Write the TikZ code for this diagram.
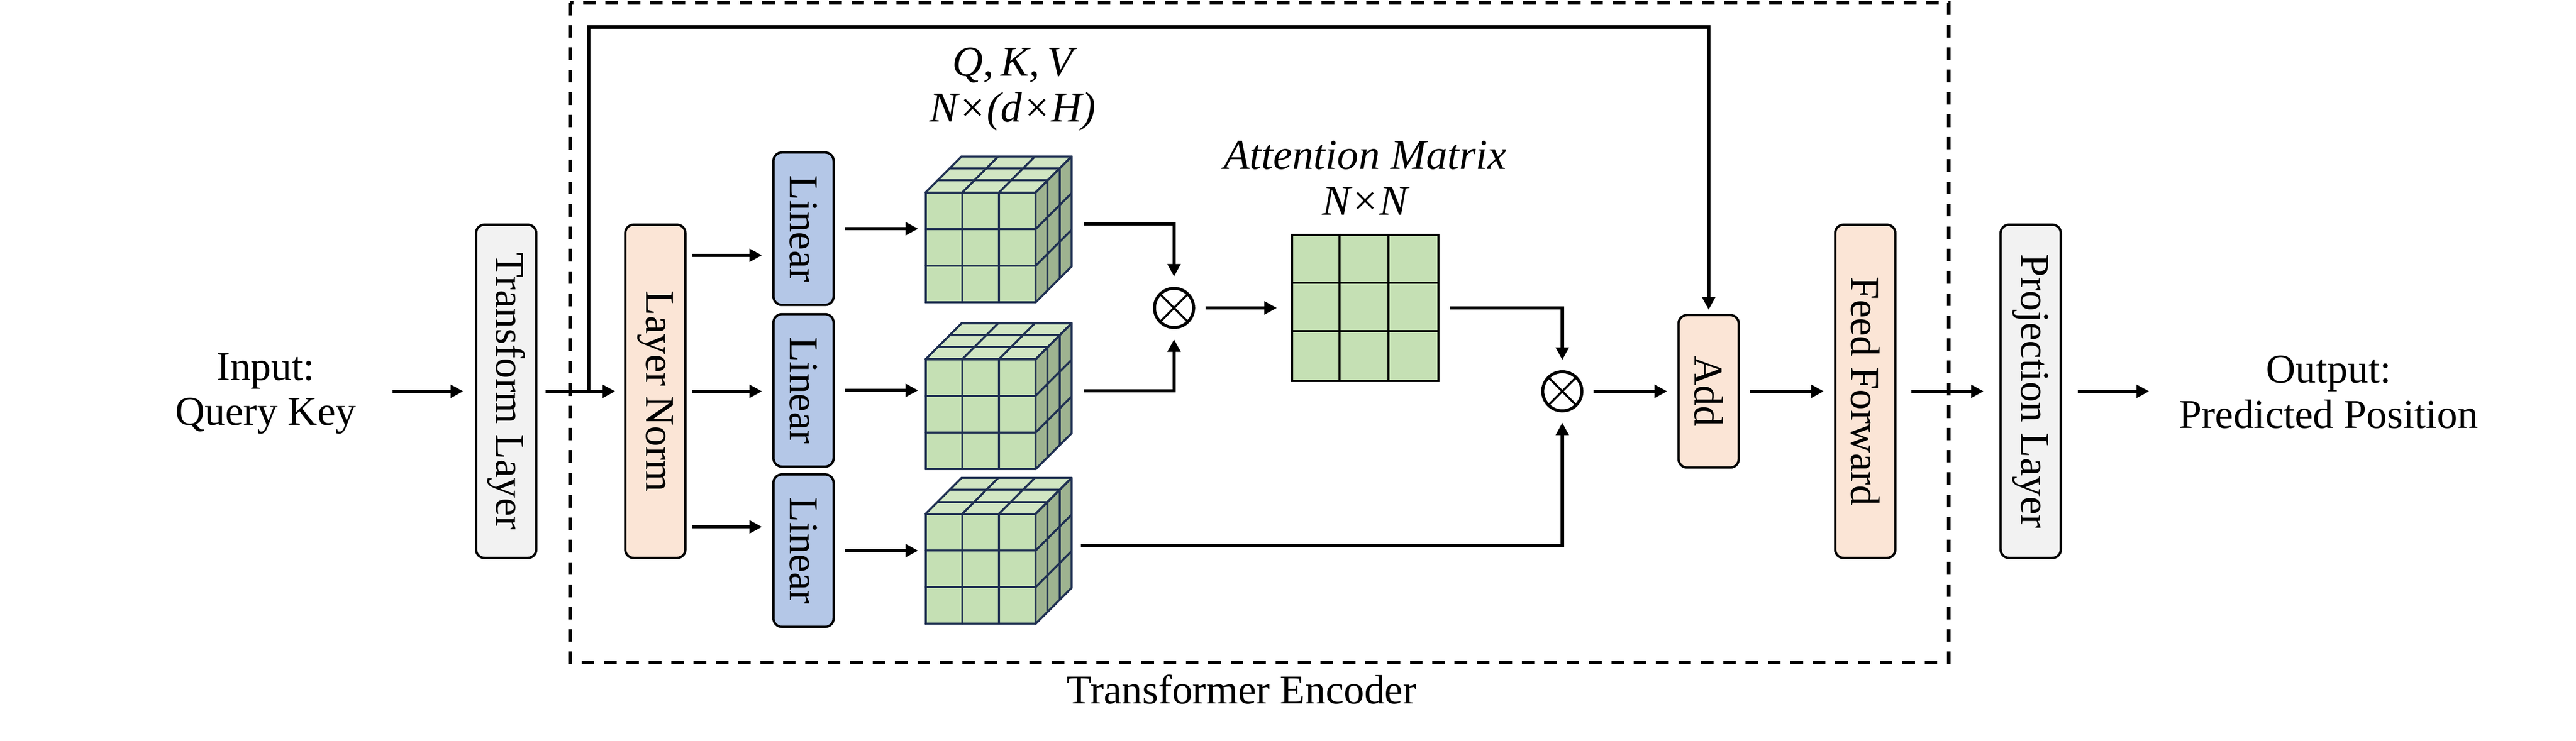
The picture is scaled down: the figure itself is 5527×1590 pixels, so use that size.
\documentclass[tikz,border=0pt]{standalone}
\usepackage{fontspec}
\setmainfont{Liberation Serif}
\usepackage{graphicx}
\usetikzlibrary{arrows.meta}

\definecolor{boxgray}{RGB}{242,242,242}
\definecolor{boxpeach}{RGB}{251,229,214}
\definecolor{boxblue}{RGB}{180,199,231}
\definecolor{cellgreen}{RGB}{197,224,180}
\definecolor{cubeedge}{RGB}{31,48,82}

\begin{document}
\begin{tikzpicture}%
        [x={(0.01cm, 0cm)},
        y={(0cm, -0.01cm)},
        font=\fontsize{25}{27.5}\selectfont,
        bigbox/.style={draw=black, line width=0.05cm, rounded corners=0.18cm, inner sep=0pt, minimum width=1.29cm, minimum height=7.15cm},
        smallbox/.style={bigbox, minimum height=3.27cm},
        arr/.style={line width=0.07cm, -{Triangle[length=0.27cm,width=0.27cm]}, shorten <=0.22cm, shorten >=0.22cm},
        cubeline/.style={draw=cubeedge, line width=0.045cm, line cap=round},
        cell/.style={draw=black, line width=0.045cm},
        otimes/.style={circle, draw=black, line width=0.065cm, minimum size=0.84cm, inner sep=0pt,
            path picture={\draw[line width=0.045cm] (path picture bounding box.north west) -- (path picture bounding box.south east)
                (path picture bounding box.north east) -- (path picture bounding box.south west);}},
        encoder/.style={dash pattern=on 0.27cm off 0.21cm, line width=0.07cm},
        dimtext/.style={align=center, font=\fontsize{26}{28}\selectfont\itshape}]

    \useasboundingbox (0,0) rectangle (5527,1590);

    %% Encoder frame
    \draw[encoder] (1223,6) rectangle (4181,1422);
    \node[anchor=base] (enclbl) at (2664,1511) {Transformer Encoder};

    %% Input / output
    \node[align=center, inner sep=0pt] (in) at (570,845) {Input:\\Query Key};
    \node[align=center, inner sep=0pt] (out) at (4996,842) {Output:\\Predicted Position};

    %% Layers
    \node[bigbox, fill=boxgray] (tl) at (1086,840) {\rotatebox{-90}{Transform Layer}};
    \node[bigbox, fill=boxpeach] (ln) at (1406,840) {\rotatebox{-90}{Layer Norm}};
    \node[smallbox, fill=boxblue] (lin1) at (1724,491) {\rotatebox{-90}{Linear}};
    \node[smallbox, fill=boxblue] (lin2) at (1724,838) {\rotatebox{-90}{Linear}};
    \node[smallbox, fill=boxblue] (lin3) at (1724,1182) {\rotatebox{-90}{Linear}};
    \node[smallbox, fill=boxpeach] (add) at (3666,840) {\rotatebox{-90}{Add}};
    \node[bigbox, fill=boxpeach] (ff) at (4002,840) {\rotatebox{-90}{Feed Forward}};
    \node[bigbox, fill=boxgray] (pr) at (4357,840) {\rotatebox{-90}{Projection Layer}};

    %% Q, K, V tensors
    \foreach \nm/\cy in {q/413, k/771, v/1103}{
        \fill[cellgreen] (1986,\cy) rectangle ++(236,236);
        \fill[cellgreen!80!white] (1986,\cy) -- ++(77,-77) -- ++(236,0) -- ++(-77,77) -- cycle;
        \fill[cellgreen!80!black] (2222,\cy) -- ++(77,-77) -- ++(0,236) -- ++(-77,77) -- cycle;
        \foreach \i in {0,...,3}{
            \draw[cubeline] (1986+\i*78.67,\cy) -- ++(0,236);
            \draw[cubeline] (1986,\cy+\i*78.67) -- ++(236,0);
            \draw[cubeline] (1986+\i*78.67,\cy) -- ++(77,-77);
            \draw[cubeline] (1986+\i*25.67,\cy-\i*25.67) -- ++(236,0);
            \draw[cubeline] (2222+\i*25.67,\cy-\i*25.67) -- ++(0,236);
            \draw[cubeline] (2222,\cy+\i*78.67) -- ++(77,-77);
        }
        \coordinate (\nm) at (1986,\cy+117);
        \coordinate (\nm o) at (2299,\cy+68);
    }
    \node[dimtext] (qkvlbl) at (2173,192) {Q,\,K,\,V\\N×(d×H)};

    %% Attention matrix
    \node[cell, fill=cellgreen, minimum size=3.14cm, inner sep=0pt] (att) at (2929,661) {};
    \foreach \i in {1,2}{
        \draw[cell] (att.north west) ++(\i*104.7,0) -- ++(0,314);
        \draw[cell] (att.north west) ++(0,\i*104.7) -- ++(314,0);
    }
    \node[dimtext] (attlbl) at (2929,382) {Attention Matrix\\N×N};

    \node[otimes] (o1) at (2519,661) {};
    \node[otimes] (o2) at (3352,840) {};

    %% Connectors
    \draw[arr, shorten <=0.77cm, shorten >=0.25cm] (in.east |- tl) -- (tl);
    \draw[arr, shorten <=0.18cm, shorten >=0.19cm] (tl) -- (ln);
    \coordinate (br) at (1263,840);
    \draw[arr, shorten <=0cm, shorten >=0.09cm] (br) -- (br |- 0,58) -| (add);
    \draw[arr, shorten <=0.13cm] (ln.east |- 0,548) -- (lin1.west |- 0,548);
    \draw[arr, shorten <=0.13cm] (ln.east |- 0,840) -- (lin2.west |- 0,840);
    \draw[arr, shorten <=0.13cm] (ln.east |- 0,1131) -- (lin3.west |- 0,1131);
    \foreach \a/\b in {lin1/q, lin2/k, lin3/v}
        \draw[arr, shorten >=0.16cm] (\a) -- (\a -| \b);
    \draw[arr, shorten <=0.27cm] (qo) -| (o1);
    \draw[arr, shorten <=0.27cm] (ko) -| (o1);
    \draw[arr, shorten <=0.2cm] (vo) -| (o2);
    \draw[arr, shorten >=0.3cm] (o1) -- (att);
    \draw[arr] (att) -| (o2);
    \draw[arr] (o2) -- (add);
    \draw[arr] (add) -- (ff);
    \draw[arr, shorten <=0.32cm, shorten >=0.34cm] (ff) -- (pr);
    \draw[arr, shorten <=0.34cm, shorten >=0.63cm] (pr) -- (pr -| out.west);
\end{tikzpicture}
\end{document}
